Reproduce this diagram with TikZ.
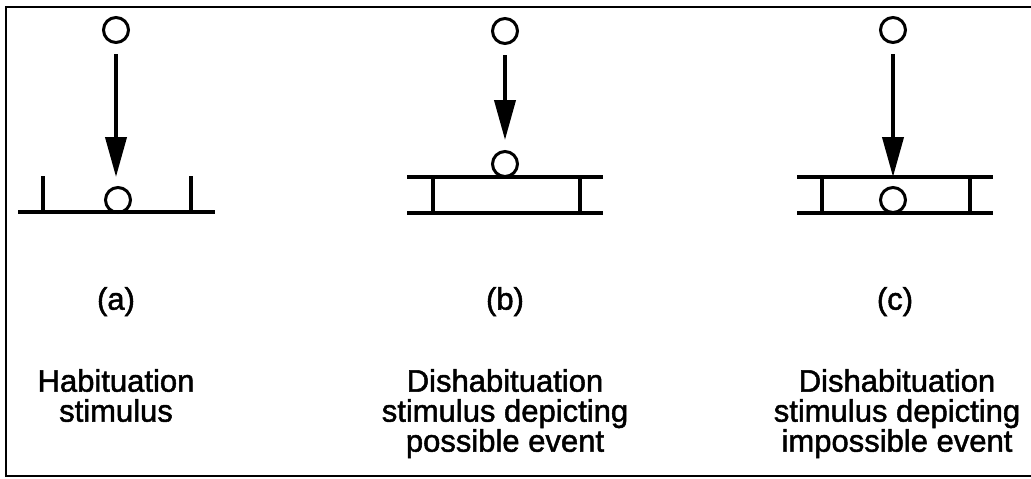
\documentclass[tikz,border=0pt]{standalone}
\usepackage{fontspec}
\setmainfont{Liberation Sans}[FakeBold=1.6]
\newfontfamily\lblfont{Liberation Sans}[FakeBold=1.6,UprightFont=*]
\usetikzlibrary{arrows.meta}
\tikzset{
  ball/.style={circle,draw,line width=3pt,minimum size=25pt,inner sep=0pt},
  fallarrow/.style={line width=4pt,shorten <=10pt,-{Triangle[length=40pt,width=21pt]}},
  rail/.style={line width=3.2pt},
  frame/.style={line width=2pt},
  lbl/.style={align=center,anchor=north,inner sep=0pt,font=\lblfont\fontsize{31}{30}\selectfont\addfontfeature{FakeBold=1.6}}
}
\begin{document}
\begin{tikzpicture}[x=1pt,y=-1pt]
\useasboundingbox (0,0) rectangle (1031,479);
% frame (open on the right)
\draw[frame] (1031,7) -- (6,7) -- (6,476) -- (1031,476);

% panel (a)
\node[ball] (a1) at (116,30) {};
\coordinate (atip) at (116,177);
\draw[fallarrow] (a1.south) -- (atip);
\node[ball] (a2) at (118,200) {};
\draw[rail] (18,212) -- (215,212);
\draw[rail] (43,176) -- (43,212);
\draw[rail] (191,176) -- (191,212);

% panel (b)
\node[ball] (b1) at (505,31) {};
\coordinate (btip) at (505,140);
\draw[fallarrow] (b1.south) -- (btip);
\node[ball] (b2) at (505,164) {};
\draw[rail] (407,177) -- (603,177);
\draw[rail] (407,213) -- (603,213);
\draw[rail] (433,177) -- (433,213);
\draw[rail] (580,177) -- (580,213);

% panel (c)
\node[ball] (c1) at (893,30) {};
\coordinate (ctip) at (893,177);
\draw[fallarrow] (c1.south) -- (ctip);
\node[ball] (c2) at (893,200) {};
\draw[rail] (797,177) -- (993,177);
\draw[rail] (797,213) -- (993,213);
\draw[rail] (822,177) -- (822,213);
\draw[rail] (970,177) -- (970,213);

% labels
\node[lbl] (la) at (116,287) {(a)};
\node[lbl] (lb) at (505,287) {(b)};
\node[lbl] (lc) at (895,287) {(c)};
\node[lbl] (ta) at (116,369) {Habituation\\stimulus};
\node[lbl] (tb) at (505,369) {Dishabituation\\stimulus depicting\\possible event};
\node[lbl] (tc) at (897,369) {Dishabituation\\stimulus depicting\\impossible event};
\end{tikzpicture}
\end{document}
